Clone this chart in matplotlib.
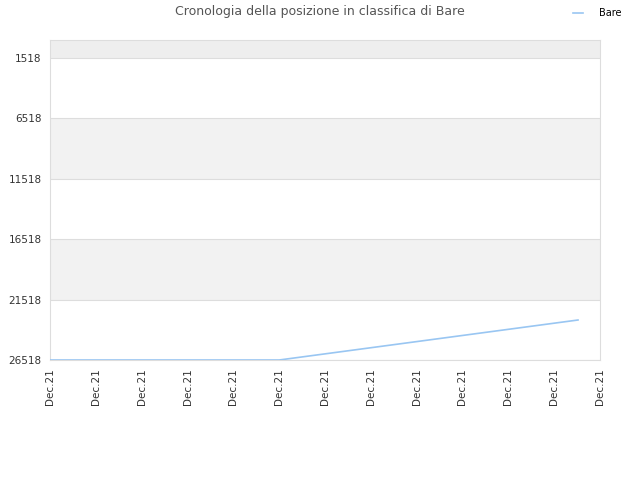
import matplotlib
matplotlib.use("Agg")
import matplotlib.pyplot as plt

# rank history (lower = better), x in tick units
x_pos = [0, 5, 11.52]
rank = [26518, 26518, 23207]

tick_pos = list(range(13))
tick_labels = ["Dec.21"] * 13
y_ticks = [1518, 6518, 11518, 16518, 21518, 26518]

fig = plt.figure(figsize=(6.4, 4.8), dpi=100)
ax = fig.add_axes([50 / 640, 1 - 360 / 480, 550 / 640, 320 / 480])

y_top = 28
y_bottom = 26518

# background bands
ax.axhspan(y_top, 1518, color="#eeeeee", zorder=0, lw=0)
for i in range(len(y_ticks) - 1):
    if i % 2 == 1:
        ax.axhspan(y_ticks[i], y_ticks[i + 1], color="#f2f2f2", zorder=0, lw=0)
for t in y_ticks:
    ax.axhline(t, color="#dddddd", lw=0.8, zorder=1)

ax.plot(x_pos, rank, color="#99c6f2", lw=1.2, zorder=3, label="Bare")

ax.set_xlim(0, 12)
ax.set_ylim(y_bottom, y_top)
ax.set_yticks(y_ticks)
ax.set_yticklabels([str(t) for t in y_ticks])
ax.set_xticks(tick_pos)
ax.set_xticklabels(tick_labels, rotation=90)
ax.tick_params(axis="both", length=0, labelsize=7.5, colors="#333333", pad=6)

for s in ax.spines.values():
    s.set_color("#dddddd")
    s.set_linewidth(0.8)

fig.text(0.5, 1 - 12 / 480, "Cronologia della posizione in classifica di Bare",
         ha="center", va="center", fontsize=9, color="#555555")

leg = fig.legend(loc="center right", bbox_to_anchor=(630 / 640, 1 - 13 / 480), frameon=False,
                 fontsize=7, handlelength=1.0, handletextpad=1.6)

fig.savefig("out.png", dpi=100)
